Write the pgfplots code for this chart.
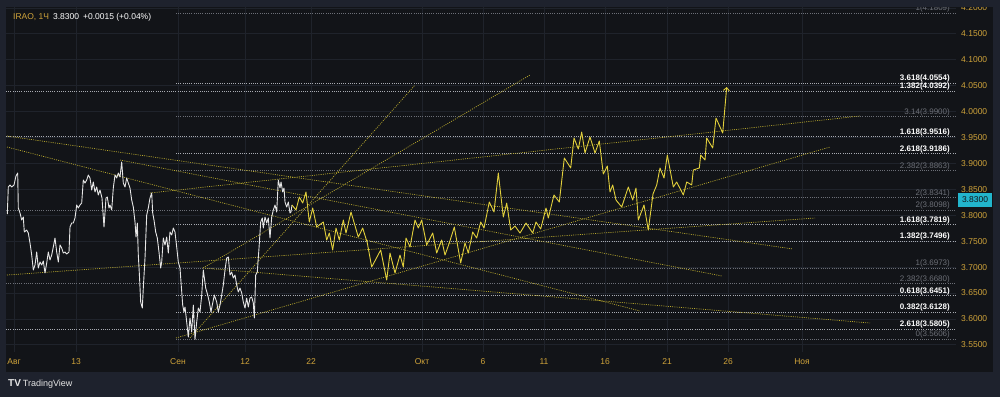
\documentclass[border=0pt]{standalone}
\usepackage{fontspec}
\setmainfont{Liberation Sans}
\usepackage{pgfplots}
\pgfplotsset{compat=1.18}
\usetikzlibrary{arrows.meta}
\definecolor{framec}{HTML}{1E222D}
\definecolor{pane}{HTML}{121418}
\definecolor{gridc}{HTML}{1F232B}
\definecolor{gold}{HTML}{CFA33A}
\definecolor{trend}{HTML}{B8A82E}
\definecolor{pathc}{HTML}{E2D03C}
\definecolor{fibw}{HTML}{A8ABB2}
\definecolor{fibg}{HTML}{6C6F77}
\definecolor{cyanl}{HTML}{22B5CC}
\definecolor{pricew}{HTML}{E6E6E6}
\begin{document}
\begin{tikzpicture}
\begin{axis}[
 set layers=standard,
 scale only axis, width=950pt, height=345pt,
 xmin=6, xmax=956, ymin=3.53617, ymax=4.20181,
 clip=false,
 axis line style={draw=none},
 major tick length=0pt,
 grid=major, grid style={gridc, line width=0.8pt},
 xtick={14,76,178,245,311,422,483,544,605,667,728,802},
 xticklabels={Авг,13,Сен,12,22,Окт,6,11,16,21,26,Ноя},
 xticklabel style={anchor=center, yshift=-10pt, inner sep=0pt, text=gold, font=\fontsize{8.5}{9}\selectfont},
 ytick={3.55,3.60,3.65,3.70,3.75,3.80,3.85,3.90,3.95,4.00,4.05,4.10,4.15,4.20},
 yticklabel pos=right,
 yticklabel style={anchor=west, xshift=5pt, inner sep=0pt, text=gold, font=\fontsize{8.5}{9}\selectfont},
 /pgf/number format/fixed, /pgf/number format/fixed zerofill, /pgf/number format/precision=4,
 /pgf/number format/assume math mode=true,
]
\begin{pgfonlayer}{axis background}
\fill[framec] (axis cs:0,4.21532) rectangle (axis cs:1000,3.44935);
\fill[pane] (axis cs:6,4.20181) rectangle (axis cs:993,3.49758);
\end{pgfonlayer}

% Fibonacci levels (full width)
\addplot[fibw, dash pattern=on 1pt off 1.2pt, line width=0.6pt] coordinates {(6,4.0392) (955,4.0392)};
\addplot[fibw, dash pattern=on 1pt off 1.2pt, line width=0.6pt] coordinates {(6,3.9516) (955,3.9516)};
\addplot[fibg, dash pattern=on 1pt off 1.2pt, line width=0.6pt] coordinates {(6,3.8098) (955,3.8098)};
\addplot[fibg, dash pattern=on 1pt off 1.2pt, line width=0.6pt] coordinates {(6,3.6680) (955,3.6680)};
\addplot[fibw, dash pattern=on 1pt off 1.2pt, line width=0.6pt] coordinates {(6,3.5805) (955,3.5805)};
% Fibonacci levels (from September low)
\addplot[fibg, dash pattern=on 1pt off 1.2pt, line width=0.6pt] coordinates {(176,4.1902) (955,4.1902)};
\addplot[fibw, dash pattern=on 1pt off 1.2pt, line width=0.6pt] coordinates {(176,4.0554) (955,4.0554)};
\addplot[fibg, dash pattern=on 1pt off 1.2pt, line width=0.6pt] coordinates {(176,3.9900) (955,3.9900)};
\addplot[fibw, dash pattern=on 1pt off 1.2pt, line width=0.6pt] coordinates {(176,3.9186) (955,3.9186)};
\addplot[fibg, dash pattern=on 1pt off 1.2pt, line width=0.6pt] coordinates {(176,3.8863) (955,3.8863)};
\addplot[fibg, dash pattern=on 1pt off 1.2pt, line width=0.6pt] coordinates {(176,3.8341) (955,3.8341)};
\addplot[fibw, dash pattern=on 1pt off 1.2pt, line width=0.6pt] coordinates {(176,3.7819) (955,3.7819)};
\addplot[fibw, dash pattern=on 1pt off 1.2pt, line width=0.6pt] coordinates {(176,3.7496) (955,3.7496)};
\addplot[fibg, dash pattern=on 1pt off 1.2pt, line width=0.6pt] coordinates {(176,3.6973) (955,3.6973)};
\addplot[fibw, dash pattern=on 1pt off 1.2pt, line width=0.6pt] coordinates {(176,3.6451) (955,3.6451)};
\addplot[fibw, dash pattern=on 1pt off 1.2pt, line width=0.6pt] coordinates {(176,3.6128) (955,3.6128)};
\addplot[fibg, dash pattern=on 1pt off 1.2pt, line width=0.6pt] coordinates {(176,3.5606) (955,3.5606)};

% trend lines
\addplot[trend, dash pattern=on 1pt off 1.2pt, line width=0.7pt] coordinates {(7,3.9529) (793,3.7349)};
\addplot[trend, dash pattern=on 1pt off 1.2pt, line width=0.7pt] coordinates {(7,3.9317) (640,3.6153)};
\addplot[trend, dash pattern=on 1pt off 1.2pt, line width=0.7pt] coordinates {(120,3.9066) (722,3.6828)};
\addplot[trend, dash pattern=on 1pt off 1.2pt, line width=0.7pt] coordinates {(7,3.6847) (815,3.7947)};
\addplot[trend, dash pattern=on 1pt off 1.2pt, line width=0.7pt] coordinates {(150,3.8429) (860,3.9915)};
\addplot[trend, dash pattern=on 1pt off 1.2pt, line width=0.7pt] coordinates {(176,3.5632) (830,3.9317)};
\addplot[trend, dash pattern=on 1pt off 1.2pt, line width=0.7pt] coordinates {(190,3.5632) (415,4.0513)};
\addplot[trend, dash pattern=on 1pt off 1.2pt, line width=0.7pt] coordinates {(203,3.6982) (530,4.0706)};
\addplot[trend, dash pattern=on 1pt off 1.2pt, line width=0.7pt] coordinates {(203,3.6982) (870,3.5921)};

% price history (white)
\addplot[pricew, line width=0.9pt, line join=round] coordinates {
(7.3,3.8024) (8.3,3.8545) (10,3.8584) (11.7,3.8545) (14,3.8584) (16,3.8757) (17.7,3.8815) (18.3,3.8140) (20,3.8043) (21.7,3.7908) (23.3,3.7966) (24.3,3.7677) (26.7,3.7715) (28.3,3.7657) (30,3.7465) (31.7,3.7233) (33.3,3.6944) (35,3.7040) (36.7,3.7291) (38.3,3.6982) (40,3.7098) (41.7,3.7040) (43.3,3.7117) (45,3.6886) (46.7,3.7079) (48.3,3.7291) (50,3.7137) (51.7,3.7233) (53.3,3.7387) (55,3.7561) (56.7,3.7291) (58.3,3.7098) (60,3.7426) (61.7,3.7368) (63.3,3.7272) (65,3.7291) (66.7,3.7252) (69,3.7291) (70,3.7773) (71.7,3.7850) (73.3,3.7850) (75,3.7947) (76.7,3.8198) (78.3,3.8140) (80,3.8198) (81.7,3.8236) (83.3,3.8680) (85,3.8622) (86.7,3.8680) (88.3,3.8777) (90,3.8719) (91.7,3.8487) (93.3,3.8642) (95,3.8449) (96.7,3.8545) (98.3,3.8391) (100,3.8487) (102,3.8333) (104,3.7773) (106,3.8333) (107.3,3.8352) (109,3.8140) (110,3.8198) (111.7,3.8101) (113.3,3.8526) (115,3.8777) (116.7,3.8719) (118.3,3.8815) (120,3.8738) (121.7,3.9028) (123.3,3.8622) (125,3.8545) (126.7,3.8719) (128.3,3.8622) (130,3.8526) (131.7,3.8294) (133.3,3.8159) (135,3.7870) (136,3.7580) (137.3,3.7850) (138.3,3.7233) (139.3,3.6886) (140.7,3.6326) (142.3,3.6210) (143.3,3.6596) (145,3.7175) (146.7,3.8005) (148.3,3.8140) (150,3.8333) (151.7,3.8429) (152.7,3.8043) (154,3.7908) (155.7,3.7677) (157.3,3.7561) (159,3.7291) (160.7,3.6982) (161.7,3.7098) (163.3,3.7561) (165,3.7426) (166.7,3.7580) (168.3,3.7272) (170,3.7677) (171.7,3.7619) (173.3,3.7754) (175,3.7677) (176.7,3.7387) (178.3,3.7098) (180,3.6982) (181,3.6712) (182.7,3.6268) (184,3.6133) (185,3.6230) (186.7,3.5940) (188.3,3.5651) (190,3.6017) (191.7,3.5747) (193.3,3.6268) (195,3.5606) (196.7,3.5940) (198.3,3.6210) (200,3.6133) (201.7,3.6461) (203.3,3.6944) (205.7,3.6596) (207.7,3.6461) (209.3,3.6326) (211,3.6133) (212.3,3.6268) (214.3,3.6461) (216.7,3.6326) (218.3,3.6133) (220,3.6268) (221.7,3.6461) (223.3,3.6654) (225,3.6944) (226.7,3.7175) (228.3,3.7194) (230,3.6847) (231.7,3.6905) (233.3,3.6789) (235,3.6847) (236.7,3.6654) (238.3,3.6519) (240,3.6596) (241.7,3.6500) (243.3,3.6326) (245,3.6210) (246.7,3.6403) (248.3,3.6230) (250,3.6403) (251.7,3.6423) (253.3,3.6307) (254.3,3.6017) (255.7,3.6847) (257.3,3.6905) (259,3.7368) (260.7,3.7870) (262.3,3.7947) (263.3,3.7754) (265,3.7966) (266.7,3.7850) (268.3,3.7947) (270,3.7561) (271.7,3.7966) (273.3,3.8101) (275,3.8198) (276.7,3.8063) (278.3,3.8680) (280,3.8526) (281,3.8642) (282.7,3.8449) (284,3.8526) (285,3.8256) (286.7,3.8159) (288.3,3.8256) (290,3.8043) (291,3.8063) (292,3.8198)
};
% projected path (yellow)
\addplot[pathc, line width=0.9pt, line join=round, -{Straight Barb[length=3pt,width=6pt]}] coordinates {
(292,3.8198) (296,3.8101) (299.3,3.8352) (302.7,3.8236) (306,3.8449) (309.3,3.7870) (312.7,3.8140) (316.7,3.7773) (323.3,3.7870) (326.7,3.7522) (329.3,3.7657) (332.7,3.7330) (336,3.7754) (339.3,3.7522) (343.3,3.7908) (346,3.7657) (351,3.8063) (358.3,3.7580) (362.7,3.7754) (367.3,3.7465) (371.7,3.7002) (380.7,3.7330) (386.7,3.6751) (390,3.7272) (395,3.6886) (400,3.7233) (403.3,3.7002) (406,3.7561) (410,3.7387) (415,3.7908) (418.3,3.7754) (421.7,3.7908) (426.7,3.7426) (432.7,3.7657) (436.7,3.7272) (441.7,3.7522) (445,3.7233) (449.3,3.7465) (454.3,3.7773) (460.7,3.7079) (465,3.7465) (468.3,3.7272) (472.7,3.7677) (476.7,3.7561) (480.7,3.7870) (484,3.7754) (489.3,3.8256) (494,3.8063) (498.3,3.8815) (503.3,3.7966) (506.7,3.8236) (510.7,3.7715) (515,3.7792) (520,3.7657) (526,3.7850) (532.7,3.7657) (536,3.7870) (540.7,3.7735) (546,3.8140) (548.3,3.7947) (554,3.8391) (559.3,3.8256) (564.3,3.9105) (570.7,3.8912) (574,3.9491) (578.3,3.9278) (581.7,3.9606) (585,3.9201) (590,3.9510) (595,3.9201) (599.3,3.9433) (603.3,3.8796) (607.3,3.8950) (610,3.8449) (612.7,3.8584) (616,3.8294) (621.7,3.8159) (628.3,3.8545) (632.7,3.8294) (636,3.8526) (638.3,3.7908) (644,3.8198) (648.3,3.7715) (653,3.8410) (656.7,3.8584) (660,3.8912) (664,3.8719) (667.3,3.9162) (673.3,3.8545) (676.7,3.8642) (683.3,3.8391) (686.7,3.8642) (691.7,3.8584) (693.3,3.8873) (699.3,3.8912) (700.7,3.9162) (705,3.9066) (706.7,3.9491) (712.7,3.9298) (716,3.9876) (722.7,3.9587) (726.7,4.0474)
};

% Fibonacci labels
\begin{scope}[every node/.style={anchor=base east, inner sep=0pt, yshift=2.5pt, font=\fontsize{8}{9}\selectfont}]
\node[text=fibg] at (axis cs:950,4.1902) {1(4.1809)};
\node[text=white, font=\fontsize{8}{9}\selectfont\bfseries] at (axis cs:950,4.0554) {3.618(4.0554)};
\node[text=white, font=\fontsize{8}{9}\selectfont\bfseries] at (axis cs:950,4.0392) {1.382(4.0392)};
\node[text=fibg] at (axis cs:950,3.9900) {3.14(3.9900)};
\node[text=white, font=\fontsize{8}{9}\selectfont\bfseries] at (axis cs:950,3.9516) {1.618(3.9516)};
\node[text=white, font=\fontsize{8}{9}\selectfont\bfseries] at (axis cs:950,3.9186) {2.618(3.9186)};
\node[text=fibg] at (axis cs:950,3.8863) {2.382(3.8863)};
\node[text=fibg] at (axis cs:950,3.8341) {2(3.8341)};
\node[text=fibg] at (axis cs:950,3.8098) {2(3.8098)};
\node[text=white, font=\fontsize{8}{9}\selectfont\bfseries] at (axis cs:950,3.7819) {1.618(3.7819)};
\node[text=white, font=\fontsize{8}{9}\selectfont\bfseries] at (axis cs:950,3.7496) {1.382(3.7496)};
\node[text=fibg] at (axis cs:950,3.6973) {1(3.6973)};
\node[text=fibg] at (axis cs:950,3.6680) {2.382(3.6680)};
\node[text=white, font=\fontsize{8}{9}\selectfont\bfseries] at (axis cs:950,3.6451) {0.618(3.6451)};
\node[text=white, font=\fontsize{8}{9}\selectfont\bfseries] at (axis cs:950,3.6128) {0.382(3.6128)};
\node[text=white, font=\fontsize{8}{9}\selectfont\bfseries] at (axis cs:950,3.5805) {2.618(3.5805)};
\node[text=fibg] at (axis cs:950,3.5606) {0(3.5606)};
\end{scope}

\begin{pgfonlayer}{axis foreground}
\fill[framec] (axis cs:0,4.21532) rectangle (axis cs:1000,4.20181);
\fill[cyanl] (axis cs:958,3.8429) rectangle (axis cs:992,3.8159);
\node[anchor=center, inner sep=0pt, text=pane, font=\fontsize{8.5}{9}\selectfont] at (axis cs:975,3.8294) {3.8300};
\node[anchor=west, inner sep=0pt, font=\fontsize{8.5}{9}\selectfont] at (axis cs:13,4.1825) {\textcolor{gold}{IRAO, 1Ч}\hspace{4pt}\textcolor{white}{3.8300}\hspace{4pt}\textcolor{white}{+0.0015 (+0.04\%)}};
\node[anchor=west, inner sep=0pt, text=pricew, font=\fontsize{9}{10}\selectfont] at (axis cs:8,3.4744) {{\bfseries\fontsize{10}{10}\selectfont TV}\hspace{2pt}TradingView};
\end{pgfonlayer}
\end{axis}
\end{tikzpicture}
\end{document}
